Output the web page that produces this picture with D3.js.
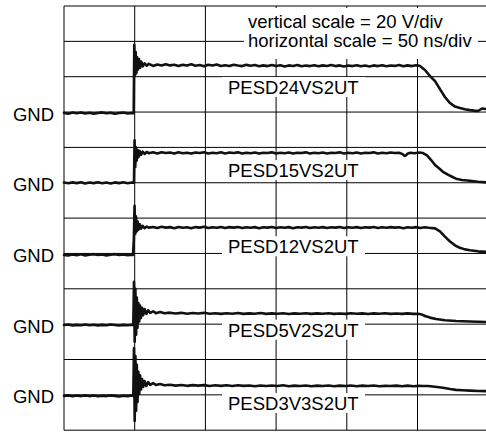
<!DOCTYPE html>
<html><head><meta charset="utf-8">
<script src="https://cdn.jsdelivr.net/npm/d3@7"></script>
<style>html,body{margin:0;padding:0;background:#fff;} svg{display:block;}</style>
</head><body>
<svg id="c" width="486" height="432"></svg>
<script>
// ---- data ----
const traceNames = ["PESD24VS2UT", "PESD15VS2UT", "PESD12VS2UT", "PESD5V2S2UT", "PESD3V3S2UT"];
const gndVolts = [180, 140, 100, 60, 20];          // GND reference of each trace on the screen (20 V/div)
const timeTicks = [0, 50, 100, 150, 200, 250, 300]; // ns, 50 ns/div
const voltTicks = [0, 20, 40, 60, 80, 100, 120, 140, 160, 180, 200, 220, 240];
const infoLines = ["vertical scale = 20 V/div", "horizontal scale = 50 ns/div"];
const gndText = "GND";

// [time ns, volts above GND]
const trace1 = [[0,-0.5],[3,-0.9],[6,-0.3],[9,-0.7],[12,-0.2],[15,-0.8],[18,-0.4],[21,-0.9],[24,-0.5],[27,-0.2],[30,-0.7],[33,-0.4],[36,-1.0],[39,-0.5],[42,-0.3],[45,-0.8],[48,-0.5],[49.3,-0.6],
 [49.7,38],[50.2,21],[50.7,34],[51.2,22],[51.7,31],[52.3,24],[53,30],[53.8,25],[54.7,28.5],[55.7,25.8],[57,27.6],[58.5,26.2],[60,27.3],
 [63,26.1],[66,26.9],[69,26.3],[72,27.1],[75,26.4],[78,26.8],[81,26.0],[84,26.7],[87,26.3],[90,27.0],[93,26.2],[96,26.6],[99,25.9],[102,26.8],[105,26.3],[108,26.9],[111,26.1],[114,26.5],[117,26.0],[120,26.8],[123,26.3],[126,26.0],[129,26.7],[132,26.2],[135,26.6],[138,25.9],[141,26.4],[144,26.0],[147,26.6],[150,26.1],[153,26.5],[156,25.8],[159,26.4],[162,26.1],[165,26.6],[168,25.9],[171,26.3],[174,26.0],[177,26.5],[180,25.9],[183,26.4],[186,26.1],[189,26.6],[192,26.0],[195,26.4],[198,25.8],[201,26.3],[204,26.0],[207,26.5],[210,25.9],[213,26.3],[216,25.8],[219,26.4],[222,26.0],[225,26.5],[228,25.9],[231,26.3],[234,26.1],[237,26.6],[240,25.9],[243,26.4],[246,26.0],[249,26.5],[251.5,26.2],
 [255.3,23.8],[258.8,20.4],[262.4,17.5],[265.9,13],[269.4,8.5],[273,5.1],[276.5,3.1],[280,2.3],[283.5,1.6],[287,1.1],[290,0.8],[292.8,0.6],[295.6,2.0],[298.4,1.7],[300,1.6]];

const trace2 = [[0,0.1],[3,-0.3],[6,0.2],[9,-0.2],[12,0.3],[15,-0.4],[18,0.1],[21,-0.2],[24,0.3],[27,-0.3],[30,0.1],[33,-0.4],[36,0.2],[39,-0.2],[42,0.3],[45,-0.3],[48,0.1],[49.5,0],
 [49.9,24],[50.4,9],[50.9,20],[51.4,12.5],[52,18.5],[52.7,14.5],[53.5,18],[54.5,15.8],[55.6,17.6],[57,16.3],[58.5,17.4],[60,16.7],
 [63,17.2],[66,16.6],[69,17.3],[72,16.8],[75,17.1],[78,16.5],[81,17.2],[84,16.7],[87,17.0],[90,16.5],[93,17.1],[96,16.8],[99,17.3],[102,16.6],[105,17.0],[108,16.7],[111,17.2],[114,16.6],[117,17.1],[120,16.8],[123,17.2],[126,16.6],[129,17.0],[132,16.7],[135,17.1],[138,16.5],[141,17.0],[144,16.8],[147,17.2],[150,16.6],[153,17.0],[156,16.7],[159,17.1],[162,16.5],[165,17.0],[168,16.8],[171,17.2],[174,16.6],[177,17.0],[180,16.7],[183,17.1],[186,16.6],[189,17.0],[192,16.8],[195,17.2],[198,16.6],[201,17.0],[204,16.7],[207,17.1],[210,16.6],[213,17.0],[216,16.8],[219,17.2],[222,16.6],[225,17.0],[228,16.7],[231,17.1],[234,16.8],[237,17.0],
 [239.5,16.2],[240.8,15.2],[242,15.6],[243.2,16.6],[245,17.0],[248,16.7],[251,17.1],[253.9,16.8],
 [256.7,15.5],[259.5,13],[262.4,10],[265.2,8.2],[268,6.2],[271.5,4.6],[274.4,3.4],[277.2,2.3],[281.4,1.6],[287.1,1.1],[292.7,0.6],[298.4,0.2],[300,0.2]];

const trace3 = [[0,-0.8],[3,-1.1],[6,-0.6],[9,-1.0],[12,-0.5],[15,-1.1],[18,-0.7],[21,-0.4],[24,-0.9],[27,-0.6],[30,-1.1],[33,-0.7],[36,-0.4],[39,-0.9],[42,-0.6],[45,-1.0],[48,-0.7],[48.8,-0.8],
 [49.4,8],[49.9,27],[50.4,11],[50.9,21],[51.5,12.5],[52.1,18],[52.8,13.5],[53.6,16.5],[54.5,14],[55.6,15.6],[57,14.3],[58.5,15.2],[60,14.6],
 [63,15.0],[66,14.4],[69,15.1],[72,14.6],[75,14.9],[78,14.3],[81,15.0],[84,14.5],[87,14.8],[90,14.2],[93,14.9],[96,14.6],[99,15.1],[102,14.4],[105,14.8],[108,14.5],[111,15.0],[114,14.4],[117,14.9],[120,14.6],[123,15.0],[126,14.4],[129,14.8],[132,14.5],[135,14.9],[138,14.3],[141,14.8],[144,14.6],[147,15.0],[150,14.4],[153,14.8],[156,14.5],[159,14.9],[162,14.3],[165,14.8],[168,14.6],[171,15.0],[174,14.4],[177,14.8],[180,14.5],[183,14.9],[186,14.4],[189,14.8],[192,14.6],[195,15.0],[198,14.4],[201,14.8],[204,14.5],[207,14.9],[210,14.4],[213,14.8],[216,14.6],[219,15.0],[222,14.4],[225,14.8],[228,14.5],[231,14.9],[234,14.6],[237,14.8],[240,14.3],[243,14.8],[246,14.5],[249,14.9],[252,14.4],[255,14.8],[258,14.5],[262.4,14.2],
 [265.9,12.5],[269.4,9.5],[273,6.8],[276.5,4.6],[280,3.2],[283.5,2.3],[287.1,1.8],[292.7,1.2],[298.4,0.9],[300,0.9]];

const trace4 = [[0,-0.5],[3,-0.2],[6,-0.7],[9,-0.4],[12,-0.6],[15,-0.2],[18,-0.6],[21,-0.3],[24,-0.7],[27,-0.4],[30,-0.6],[33,-0.2],[36,-0.5],[39,-0.8],[42,-0.4],[45,-0.6],[48,-0.3],[49.0,-0.5],
 [49.5,24],[50.0,-10],[50.5,20],[51.0,-6],[51.5,15],[52.0,-2],[52.6,12],[53.2,1.5],[53.8,10.5],[54.5,3.5],[55.2,9.2],[56,5],[57,8.5],[58.2,5.8],[59.5,7.8],[61,6.3],[63,7.3],[65,6.2],[68,6.9],[71,6.2],
 [75,6.5],[79,6.0],[83,6.4],[87,5.9],[91,6.3],[95,6.0],[99,6.4],[103,5.9],[107,6.2],[111,5.8],[115,6.2],[119,5.9],[123,6.3],[127,5.8],[131,6.1],[135,5.9],[139,6.3],[143,5.8],[147,6.1],[151,5.9],[155,6.2],[159,5.7],[163,6.1],[167,5.9],[171,6.2],[175,5.8],[179,6.1],[183,5.9],[187,6.2],[191,5.8],[195,6.0],[199,5.8],[203,6.2],[207,5.9],[211,6.1],[215,5.7],[219,6.1],[223,5.9],[227,6.2],[231,5.8],[235,6.0],[239,5.8],[243,6.1],[247,5.8],[250.4,5.9],
 [253.2,5.4],[255.3,4.6],[258.8,3.7],[263.1,2.9],[269.4,2.2],[277.2,1.8],[287.1,1.5],[298.4,1.2],[300,1.2]];

const trace5 = [[0,-0.6],[3,-0.3],[6,-0.8],[9,-0.4],[12,-0.7],[15,-0.3],[18,-0.7],[21,-0.4],[24,-0.8],[27,-0.5],[30,-0.7],[33,-0.3],[36,-0.6],[39,-0.9],[42,-0.5],[45,-0.7],[48,-0.4],[49.0,-0.6],
 [49.5,26.5],[50.0,-14.8],[50.5,22],[51.0,-9],[51.5,17],[52.0,-4],[52.6,13],[53.2,0.5],[53.8,11],[54.5,3],[55.2,9],[56,4.5],[57,7.8],[58.2,5],[59.5,7.2],[61,5.6],[63,6.6],[65,5.6],[68,6.1],[71,5.4],
 [75,5.7],[79,5.2],[83,5.6],[87,5.1],[91,5.5],[95,5.2],[99,5.5],[103,5.0],[107,5.4],[111,5.1],[115,5.4],[119,5.0],[123,5.4],[127,5.1],[131,5.3],[135,4.9],[139,5.3],[143,5.0],[147,5.3],[151,5.0],[155,5.4],[159,4.9],[163,5.2],[167,5.0],[171,5.3],[175,4.9],[179,5.2],[183,5.0],[187,5.3],[191,4.9],[195,5.2],[199,5.0],[203,5.3],[207,4.9],[211,5.2],[215,5.0],[219,5.3],[223,4.9],[227,5.1],[231,5.0],[235,5.2],[239,4.9],[243,5.2],[247,4.9],[251,5.1],[254,5.0],[257.4,5.0],
 [262.4,4.6],[268,4.0],[273,3.3],[277.2,2.8],[282,2.6],[287.1,2.4],[293,2.2],[298.4,2.1],[300,2.1]];

const traces = [trace1, trace2, trace3, trace4, trace5];

// ---- layout ----
const svg = d3.select("#c");
const x = d3.scaleLinear().domain([0, 300]).range([64, 488.2]);
const y = d3.scaleLinear().domain([0, 240]).range([430.2, 6]);
const font = "'Liberation Sans', Arial, Helvetica, sans-serif";

// grid
const grid = svg.append("g").attr("stroke", "#000").attr("stroke-width", 1).attr("fill", "none");
grid.selectAll("line.v").data(timeTicks).join("line").attr("class", "v")
  .attr("x1", d => x(d)).attr("x2", d => x(d)).attr("y1", y(240)).attr("y2", y(0));
grid.selectAll("line.h").data(voltTicks).join("line").attr("class", "h")
  .attr("x1", x(0)).attr("x2", x(300)).attr("y1", d => y(d)).attr("y2", d => y(d));

// traces
const line = d3.line().x(d => x(d[0]));
traces.forEach((tr, i) => {
  const g = gndVolts[i];
  svg.append("path").datum(tr)
    .attr("d", line.y(d => y(g + d[1])))
    .attr("fill", "none").attr("stroke", "#111").attr("stroke-width", 2.6)
    .attr("stroke-linejoin", "round").attr("stroke-linecap", "round");
});

// GND labels
svg.selectAll("text.gnd").data(gndVolts).join("text").attr("class", "gnd")
  .attr("x", 54).attr("y", d => y(d) + 8.6).attr("text-anchor", "end")
  .attr("font-family", font).attr("font-size", 18.5).attr("fill", "#000").text(gndText);

// info box
svg.append("rect").attr("x", 244).attr("y", 8).attr("width", 234).attr("height", 51).attr("fill", "#fff");
svg.selectAll("text.info").data(infoLines).join("text").attr("class", "info")
  .attr("x", 248).attr("y", (d, i) => 27.5 + i * 19.5)
  .attr("font-family", font).attr("font-size", 18.5).attr("fill", "#000").text(d => d);

// trace name labels
const labelBase = [94, 177, 253.3, 336.7, 410];
traceNames.forEach((n, i) => {
  svg.append("rect").attr("x", 222).attr("y", labelBase[i] - 17).attr("width", 143).attr("height", 20).attr("fill", "#fff");
  svg.append("text").attr("x", 228).attr("y", labelBase[i])
    .attr("font-family", font).attr("font-size", 18.5).attr("fill", "#000").text(n);
});
</script>
</body></html>
